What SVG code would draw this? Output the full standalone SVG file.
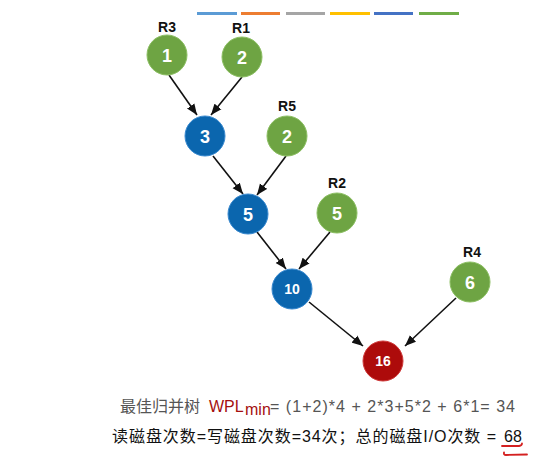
<svg xmlns="http://www.w3.org/2000/svg" width="554" height="460" viewBox="0 0 554 460">
<style>
.g{fill:#6ea443;stroke:#8cbf63;stroke-width:1}
.b{fill:#0b66ae;stroke:#3a8ad0;stroke-width:1}
.r{fill:#ad0b0b;stroke:#cf3a3a;stroke-width:1}
.d{font-family:"Liberation Sans",Arial,sans-serif;font-weight:bold;fill:#fff;text-anchor:middle}
.lb{font-family:"Liberation Sans",Arial,sans-serif;font-weight:bold;font-size:14px;fill:#111;text-anchor:middle}
.e{stroke:#111;stroke-width:1.6;fill:none;marker-end:url(#ah)}
.t{font-family:"Liberation Sans","Noto Sans CJK SC",sans-serif;font-size:16px}
</style>
<defs>
<marker id="ah" markerUnits="userSpaceOnUse" markerWidth="12" markerHeight="10" refX="11" refY="5" orient="auto">
<path d="M0,0.5 L11,5 L0,9.5 Z" fill="#111"/>
</marker>
</defs>
<rect width="554" height="460" fill="#fff"/>
<g id="legend">
<rect x="197" y="12" width="40" height="3" fill="#5b9bd5"/>
<rect x="241" y="12" width="39" height="3" fill="#ed7d31"/>
<rect x="286" y="12" width="39" height="3" fill="#a5a5a5"/>
<rect x="330" y="12" width="40" height="3" fill="#ffc000"/>
<rect x="374" y="12" width="39" height="3" fill="#4472c4"/>
<rect x="419" y="12" width="40" height="3" fill="#70ad47"/>
</g>
<g id="connectors">
<line class="e" x1="169" y1="75" x2="197" y2="115"/>
<line class="e" x1="242" y1="77" x2="211" y2="115"/>
<line class="e" x1="213" y1="156" x2="243" y2="194"/>
<line class="e" x1="286" y1="156" x2="257" y2="195"/>
<line class="e" x1="257" y1="232" x2="286" y2="269"/>
<line class="e" x1="330" y1="232" x2="299" y2="269"/>
<line class="e" x1="309" y1="302" x2="363" y2="346"/>
<line class="e" x1="456" y1="298" x2="405" y2="346"/>
</g>
<g id="n-R3"><text class="lb" x="167" y="32">R3</text><circle class="g" cx="167" cy="55" r="20"/><text class="d" x="167" y="61.5" font-size="18">1</text></g>
<g id="n-R1"><text class="lb" x="241" y="33">R1</text><circle class="g" cx="242" cy="57" r="20"/><text class="d" x="242" y="63.5" font-size="18">2</text></g>
<g id="n-3"><circle class="b" cx="205" cy="136" r="20"/><text class="d" x="205" y="142.5" font-size="18">3</text></g>
<g id="n-R5"><text class="lb" x="287" y="111">R5</text><circle class="g" cx="287" cy="136" r="20"/><text class="d" x="287" y="142.5" font-size="18">2</text></g>
<g id="n-5"><circle class="b" cx="248" cy="214" r="20"/><text class="d" x="248" y="220.5" font-size="18">5</text></g>
<g id="n-R2"><text class="lb" x="337" y="188">R2</text><circle class="g" cx="337" cy="213" r="20"/><text class="d" x="337" y="219.5" font-size="18">5</text></g>
<g id="n-10"><circle class="b" cx="292" cy="289" r="20"/><text class="d" x="292" y="294" font-size="14">10</text></g>
<g id="n-R4"><text class="lb" x="472" y="257">R4</text><circle class="g" cx="470" cy="282" r="20"/><text class="d" x="470" y="288.5" font-size="18">6</text></g>
<g id="n-16"><circle class="r" cx="383" cy="361" r="20"/><text class="d" x="383" y="366" font-size="14">16</text></g>
<g id="formula">
<text class="t" x="120" y="412" fill="#555">最佳归并树</text>
<text class="t" x="209" y="412" fill="#a50f0f">WPL</text>
<text class="t" x="245" y="415" fill="#a50f0f" font-size="12">min</text>
<text class="t" x="270" y="412" fill="#555" textLength="245" lengthAdjust="spacing">= (1+2)*4 + 2*3+5*2 + 6*1= 34</text>
<text class="t" x="112" y="442" fill="#111" textLength="384" lengthAdjust="spacing">读磁盘次数=写磁盘次数=34次；总的磁盘I/O次数 =</text>
<text class="t" x="504" y="442" fill="#111" font-size="17">68</text>
</g>
<g id="underline" stroke="#d42020" stroke-width="1.8" fill="none" stroke-linecap="round">
<path d="M502,446 L519,446 Q522,445.5 522,443.5"/>
<path d="M504,452.5 Q503.5,455 506,455 L527,454.5"/>
</g>
</svg>
